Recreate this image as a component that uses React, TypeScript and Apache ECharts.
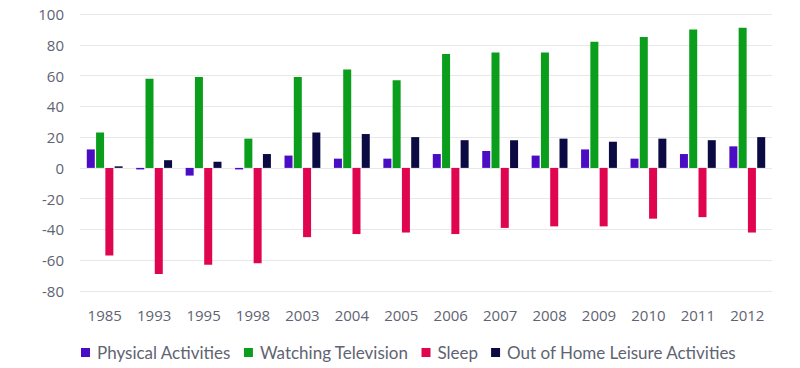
import React, { useEffect, useRef } from "react";
import * as echarts from "echarts";

const categories = ["1985","1993","1995","1998","2003","2004","2005","2006","2007","2008","2009","2010","2011","2012"];
const physical = [12, -1, -5, -1, 8, 6, 6, 9, 11, 8, 12, 6, 9, 14];
const television = [23, 58, 59, 19, 59, 64, 57, 74, 75, 75, 82, 85, 90, 91];
const sleep = [-57, -69, -63, -62, -45, -43, -42, -43, -39, -38, -38, -33, -32, -42];
const outOfHome = [1, 5, 4, 9, 23, 22, 20, 18, 18, 19, 17, 19, 18, 20];
const yTicks = { min: -80, max: 100, interval: 20 };

export default function App() {
  const ref = useRef<HTMLDivElement>(null);
  useEffect(() => {
    if (!ref.current) return;
    const chart = echarts.init(ref.current, undefined, { renderer: "svg" });
    const labelColor = "#606372";
    const mk = (name: string, data: number[], color: string) => ({
      name, type: "bar", data, barWidth: 8, barGap: "16%",
      itemStyle: { color },
    });
    chart.setOption({
      animation: false,
      backgroundColor: "#ffffff",
      grid: { left: 80, right: 28, top: 14, bottom: 77 },
      legend: {
        left: 76, top: 339, itemWidth: 9, itemHeight: 9, itemGap: 13,
        icon: "rect",
        textStyle: { fontFamily: "Lato", fontSize: 17, color: labelColor, padding: [0, 0, 0, 2] },
        data: ["Physical Activities", "Watching Television", "Sleep", "Out of Home Leisure Activities"],
      },
      xAxis: {
        type: "category", data: categories,
        axisLine: { show: false }, axisTick: { show: false },
        axisLabel: { fontFamily: "Open Sans", fontSize: 15, color: labelColor, margin: 16 },
      },
      yAxis: {
        type: "value", min: yTicks.min, max: yTicks.max, interval: yTicks.interval,
        axisLine: { show: false }, axisTick: { show: false },
        axisLabel: { fontFamily: "Open Sans", fontSize: 15, color: labelColor, margin: 16 },
        splitLine: { lineStyle: { color: "#e8e8ea" } },
      },
      series: [
        mk("Physical Activities", physical, "#4b0dc4"),
        mk("Watching Television", television, "#0a9e1c"),
        mk("Sleep", sleep, "#e0054f"),
        mk("Out of Home Leisure Activities", outOfHome, "#0c0a42"),
      ],
    });
    return () => chart.dispose();
  }, []);
  return <div ref={ref} style={{ width: 800, height: 368, position: "absolute", left: 0, top: 0 }} />;
}
